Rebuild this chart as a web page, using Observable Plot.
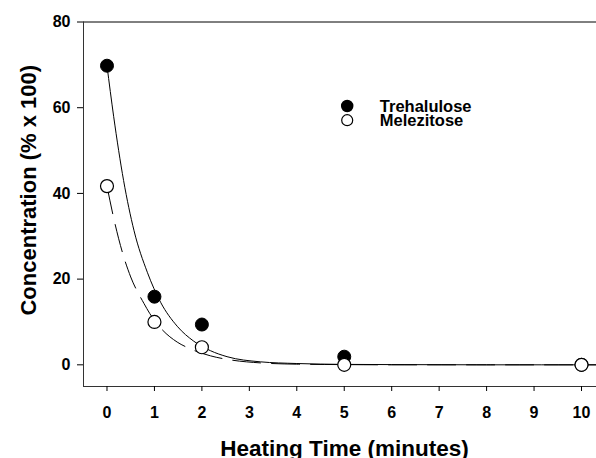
<!DOCTYPE html>
<html>
<head>
<meta charset="utf-8">
<script src="https://cdn.jsdelivr.net/npm/d3@7"></script>
<script src="https://cdn.jsdelivr.net/npm/@observablehq/plot@0.6"></script>
<style>
  body { margin: 0; background: white; }
</style>
</head>
<body>
<div id="chart"></div>
<script>
// Measured data points
const timeMin = [0, 1, 2, 5, 10];
const trehalulose = [69.8, 15.9, 9.4, 1.9, 0];
const melezitose = [41.7, 10.0, 4.1, 0, 0];

// Fitted curves
const trehFitTime = [0, 0.14, 0.35, 0.57, 0.85, 1.13, 1.48, 1.83, 2.18, 2.53, 3.23, 4, 5, 6, 8, 10.3];
const trehFitValue = [69.8, 58, 43, 31.3, 21.6, 14.6, 9.0, 5.5, 3.3, 1.9, 0.7, 0.3, 0.1, 0.05, 0, 0];
const melFitTime = [0, 0.14, 0.35, 0.5, 0.78, 0.9, 1.13, 1.48, 1.72, 2.18, 2.6, 3.23, 4, 5, 6, 8, 10.3];
const melFitValue = [41.7, 34.3, 25.3, 20.5, 14.3, 12.0, 8.6, 5.3, 3.9, 2.1, 1.15, 0.45, 0.15, 0.05, 0, 0, 0];

const seriesNames = ["Trehalulose", "Melezitose"];
const xTicks = [0, 1, 2, 3, 4, 5, 6, 7, 8, 9, 10];
const yTicks = [0, 20, 40, 60, 80];
const xDomain = [-0.495, 10.316];
const yDomain = [-5.06, 80];
const xTitle = "Heating Time (minutes)";
const yTitle = "Concentration (% x 100)";

const pts = (xs, ys) => xs.map((x, i) => ({x, y: ys[i]}));
const trehPts = pts(timeMin, trehalulose);
const melPts = pts(timeMin, melezitose);
const trehFit = pts(trehFitTime, trehFitValue);
const melFit = pts(melFitTime, melFitValue);

const chart = Plot.plot({
  width: 596,
  height: 458,
  marginLeft: 83,
  marginRight: 0,
  marginTop: 21.5,
  marginBottom: 72,
  x: {domain: xDomain},
  y: {domain: yDomain},
  style: {fontFamily: "'Liberation Sans', Arial, sans-serif", fontWeight: "bold", background: "white", color: "black"},
  marks: [
    Plot.ruleY([yDomain[1]], {stroke: "black", strokeWidth: 1}),
    Plot.ruleX([xDomain[0]], {stroke: "#333", strokeWidth: 1}),
    Plot.ruleY([yDomain[0]], {stroke: "#333", strokeWidth: 1}),
    Plot.axisX({ticks: xTicks, tickSize: 5, tickPadding: 15, fontSize: 16, label: null, stroke: "black", style: {letterSpacing: "1px"}}),
    Plot.axisY({ticks: yTicks, tickSize: 6, tickPadding: 7, fontSize: 16, label: null, stroke: "black", style: {letterSpacing: "1px"}}),
    Plot.line(trehFit, {x: "x", y: "y", stroke: "black", strokeWidth: 1, curve: "monotone-x"}),
    Plot.line(melFit, {x: "x", y: "y", stroke: "black", strokeWidth: 1, curve: "monotone-x", strokeDasharray: "28,11"}),
    Plot.dot(trehPts, {x: "x", y: "y", r: 6.5, fill: "black", stroke: "black", strokeWidth: 1}),
    Plot.dot(melPts, {x: "x", y: "y", r: 6.5, fill: "white", stroke: "black", strokeWidth: 1.2}),
    // legend
    Plot.dot([seriesNames[0]], {x: null, y: null, frameAnchor: "top-left", dx: 263.7, dy: 84, r: 5.5, fill: "black", stroke: "black"}),
    Plot.dot([seriesNames[1]], {x: null, y: null, frameAnchor: "top-left", dx: 263.7, dy: 98.2, r: 5.5, fill: "white", stroke: "black", strokeWidth: 1.2}),
    Plot.text([seriesNames[0]], {text: d => d, frameAnchor: "top-left", dx: 296.3, dy: 84.5, textAnchor: "start", lineAnchor: "middle", fontSize: 16.5, fill: "black"}),
    Plot.text([seriesNames[1]], {text: d => d, frameAnchor: "top-left", dx: 296.3, dy: 98.5, textAnchor: "start", lineAnchor: "middle", fontSize: 16.5, fill: "black"}),
    // axis titles
    Plot.text([xTitle], {text: d => d, frameAnchor: "bottom", textAnchor: "middle", dx: 4.5, dy: 62, lineAnchor: "middle", fontSize: 22.5, fill: "black"}),
    Plot.text([yTitle], {text: d => d, frameAnchor: "left", textAnchor: "middle", rotate: -90, dx: -55, dy: -14, lineAnchor: "middle", fontSize: 22, fill: "black"})
  ]
});
document.getElementById("chart").appendChild(chart);
</script>
</body>
</html>
